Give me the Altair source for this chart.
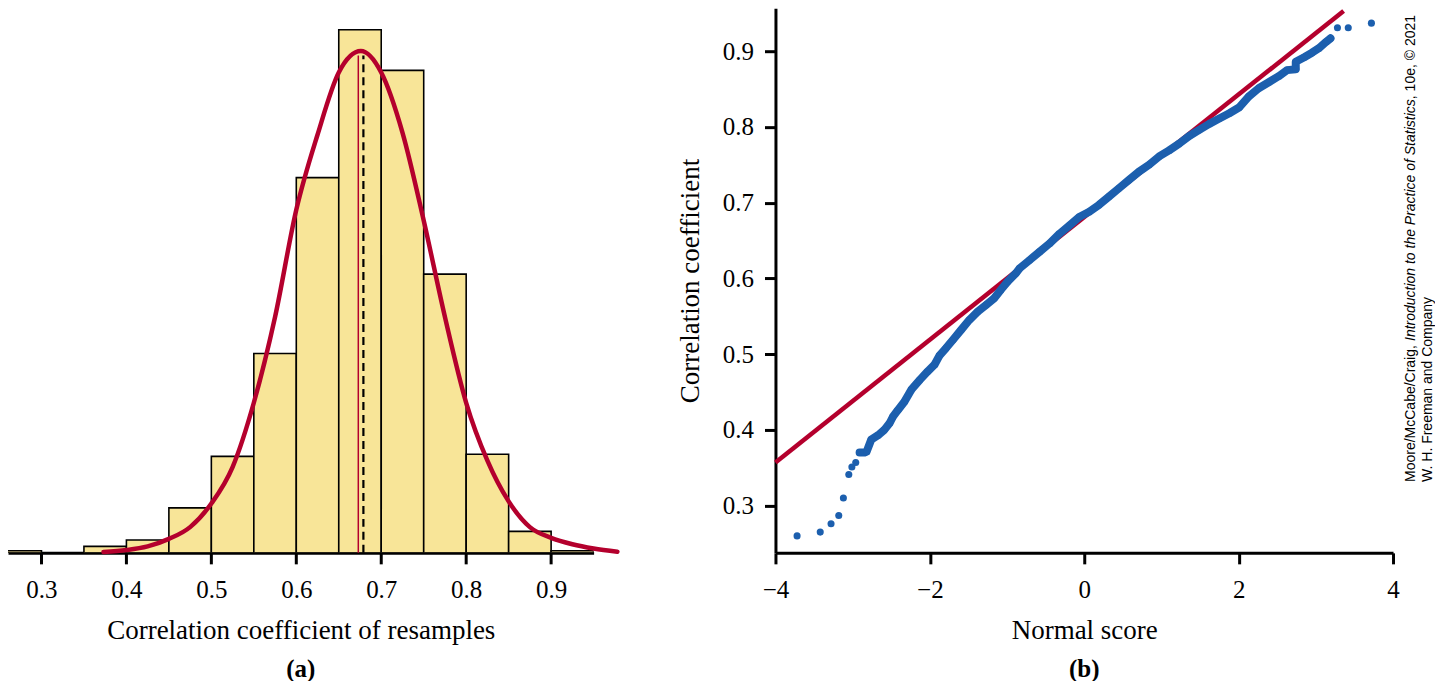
import altair as alt
import pandas as pd

# ---------------- data: panel (a) ----------------
bin_start = [0.25, 0.30, 0.35, 0.40, 0.45, 0.50, 0.55, 0.60, 0.65, 0.70, 0.75, 0.80, 0.85, 0.90]
bin_count = [1, 0, 3, 6, 21, 45, 93, 175, 244, 225, 130, 46, 10, 1]
bin_width = 0.05

curve_x = [0.373, 0.40, 0.425, 0.45, 0.475, 0.50, 0.525, 0.55, 0.575, 0.60, 0.625, 0.65, 0.676,
           0.70, 0.725, 0.75, 0.775, 0.80, 0.825, 0.85, 0.875, 0.90, 0.925, 0.95, 0.978]
curve_y = [0.4, 1.3, 3.0, 6.5, 12, 23, 40, 70, 110, 160, 195, 224, 234,
           224, 196, 155, 110, 70, 43, 24, 12, 7, 4, 2, 0.5]

mean_x = [0.673]      # red thin line
median_x = [0.679]    # black dashed line
marker_top = [232]

# ---------------- data: panel (b) ----------------
qq_z = [-3.72, -3.42, -3.28, -3.18, -3.12, -3.05, -3.01, -2.96, -2.91, -2.85, -2.82,
        -2.76, -2.67, -2.59, -2.52, -2.48, -2.415, -2.33, -2.24, -2.13, -2.03, -1.94,
        -1.876, -1.79, -1.70, -1.595, -1.49, -1.38, -1.27, -1.164, -1.08, -0.99, -0.884,
        -0.84, -0.71, -0.58, -0.45, -0.32, -0.19, -0.065, 0.065, 0.19, 0.32, 0.45, 0.58,
        0.71, 0.84, 0.97, 1.10, 1.23, 1.36, 1.49, 1.62, 1.75, 1.88, 2.01, 2.13, 2.26,
        2.39, 2.52, 2.63, 2.74, 2.74, 2.85, 2.95, 3.04, 3.13, 3.19, 3.28, 3.42, 3.72]
qq_r = [0.260, 0.265, 0.276, 0.287, 0.310, 0.341, 0.351, 0.357, 0.370, 0.370, 0.371,
        0.387, 0.393, 0.400, 0.409, 0.417, 0.426, 0.437, 0.453, 0.466, 0.477, 0.486,
        0.498, 0.508, 0.519, 0.532, 0.545, 0.556, 0.565, 0.574, 0.585, 0.596, 0.607,
        0.613, 0.624, 0.635, 0.646, 0.659, 0.670, 0.681, 0.688, 0.697, 0.708, 0.719, 0.730,
        0.741, 0.750, 0.761, 0.769, 0.778, 0.788, 0.796, 0.804, 0.811, 0.818, 0.826, 0.840, 0.851,
        0.859, 0.867, 0.875, 0.876, 0.886, 0.892, 0.898, 0.904, 0.912, 0.917, 0.931, 0.931, 0.937]

fit_z = [-4.0, 3.36]
fit_r = [0.357, 0.953]

copy_line1 = ["Moore/McCabe/Craig, ", "Introduction to the Practice of Statistics", ", 10e, \u00a9 2021"]
copy_line2 = ["W. H. Freeman and Company"]

# ---------------- styling ----------------
RED = "#B4002D"
BLUE = "#1C5FAE"
FILL = "#F8E598"
SERIF = "Liberation Serif"
SANS = "Liberation Sans"

H = 545

# ---------------- panel (a) ----------------
hist_df = pd.DataFrame({"x": bin_start,
                        "x2": [b + bin_width for b in bin_start],
                        "y0": [0] * len(bin_start),
                        "y": bin_count})
curve_df = pd.DataFrame({"x": curve_x, "y": curve_y})
red_df = pd.DataFrame({"x": mean_x, "y": [0], "y2": marker_top})
dash_df = pd.DataFrame({"x": median_x, "y": [0], "y2": marker_top})

xs_a = alt.Scale(domain=[0.2606, 0.95], nice=False, zero=False)
ys_a = alt.Scale(domain=[0, 254], nice=False, zero=True)
ax_a = alt.Axis(values=[0.3, 0.4, 0.5, 0.6, 0.7, 0.8, 0.9], format=".1f",
                title="Correlation coefficient of resamples", grid=False,
                labelFont=SERIF, labelFontSize=25, labelColor="black", labelPadding=14,
                titleFont=SERIF, titleFontSize=27, titleFontWeight="normal", titleColor="black",
                titlePadding=15, tickSize=11, tickWidth=3, tickColor="black",
                domainWidth=3, domainColor="black", labelFlush=False)

bars = alt.Chart(hist_df).mark_rect(fill=FILL, stroke="black", strokeWidth=1.6, clip=True).encode(
    x=alt.X("x:Q", scale=xs_a, axis=ax_a),
    x2="x2:Q",
    y=alt.Y("y0:Q", scale=ys_a, axis=None),
    y2="y:Q",
)
red_rule = alt.Chart(red_df).mark_rule(color=RED, strokeWidth=1.5).encode(
    x=alt.X("x:Q", scale=xs_a, axis=ax_a),
    y=alt.Y("y:Q", scale=ys_a, axis=None), y2="y2:Q")
dash_rule = alt.Chart(dash_df).mark_rule(color="black", strokeWidth=2.2, strokeDash=[8, 5]).encode(
    x=alt.X("x:Q", scale=xs_a, axis=ax_a),
    y=alt.Y("y:Q", scale=ys_a, axis=None), y2="y2:Q")
curve = alt.Chart(curve_df).mark_line(color=RED, strokeWidth=4.5, interpolate="monotone",
                                      strokeCap="round").encode(
    x=alt.X("x:Q", scale=xs_a, axis=ax_a),
    y=alt.Y("y:Q", scale=ys_a, axis=None))

left = alt.layer(bars, red_rule, dash_rule, curve).properties(
    width=586, height=H,
    title=alt.TitleParams("(a)", orient="bottom", anchor="middle", font=SERIF,
                          fontSize=25, fontWeight="bold", color="black", offset=13))

# ---------------- panel (b) ----------------
qq_df = pd.DataFrame({"z": qq_z, "r": qq_r, "i": list(range(len(qq_z)))})
band_df = qq_df[(qq_df["z"] > -2.93) & (qq_df["z"] < 3.2)]
fit_df = pd.DataFrame({"z": fit_z, "r": fit_r})

xs_b = alt.Scale(domain=[-4, 4], nice=False, zero=False)
ys_b = alt.Scale(domain=[0.2376, 0.9567], nice=False, zero=False)
ax_bx = alt.Axis(values=[-4, -2, 0, 2, 4], format="d", title="Normal score", grid=False,
                 labelFont=SERIF, labelFontSize=25, labelColor="black", labelPadding=14,
                 titleFont=SERIF, titleFontSize=27, titleFontWeight="normal", titleColor="black",
                 titlePadding=15, tickSize=11, tickWidth=3, tickColor="black",
                 domainWidth=3, domainColor="black", labelFlush=False)
ax_by = alt.Axis(values=[0.3, 0.4, 0.5, 0.6, 0.7, 0.8, 0.9], format=".1f",
                 title="Correlation coefficient", grid=False,
                 labelFont=SERIF, labelFontSize=25, labelColor="black", labelPadding=11,
                 titleFont=SERIF, titleFontSize=27, titleFontWeight="normal", titleColor="black",
                 titlePadding=18, tickSize=11, tickWidth=3, tickColor="black",
                 domainWidth=3, domainColor="black", labelFlush=False)

fit = alt.Chart(fit_df).mark_line(color=RED, strokeWidth=4.5).encode(
    x=alt.X("z:Q", scale=xs_b, axis=ax_bx),
    y=alt.Y("r:Q", scale=ys_b, axis=ax_by))
band = alt.Chart(band_df).mark_line(color=BLUE, strokeWidth=8, strokeCap="round",
                                    strokeJoin="round").encode(
    x=alt.X("z:Q", scale=xs_b, axis=ax_bx),
    y=alt.Y("r:Q", scale=ys_b, axis=ax_by),
    order="i:Q")
pts = alt.Chart(qq_df).mark_circle(color=BLUE, size=50, opacity=1).encode(
    x=alt.X("z:Q", scale=xs_b, axis=ax_bx),
    y=alt.Y("r:Q", scale=ys_b, axis=ax_by))


def copy_text(txt, px, py, italic=False):
    return alt.Chart(pd.DataFrame({"t": [txt]})).mark_text(
        angle=270, align="left", baseline="middle", font=SANS, fontSize=14,
        fontStyle="italic" if italic else "normal", color="black").encode(
        x=alt.value(px), y=alt.value(py), text="t:N")


c1 = copy_text(copy_line1[0], 636, 474)
c2 = copy_text(copy_line1[1], 636, 333, italic=True)
c3 = copy_text(copy_line1[2], 636, 91)
c4 = copy_text(copy_line2[0], 653, 474)

right = alt.layer(fit, band, pts, c1, c2, c3, c4).properties(
    width=618, height=H,
    title=alt.TitleParams("(b)", orient="bottom", anchor="middle", font=SERIF,
                          fontSize=25, fontWeight="bold", color="black", offset=13))

chart = alt.hconcat(left, right, spacing=182, bounds="flush").properties(
    padding={"top": -7, "bottom": 0, "left": 0, "right": 0}
).configure_view(stroke=None)

chart.save("out.html", embed_options={"renderer": "svg", "actions": False})
